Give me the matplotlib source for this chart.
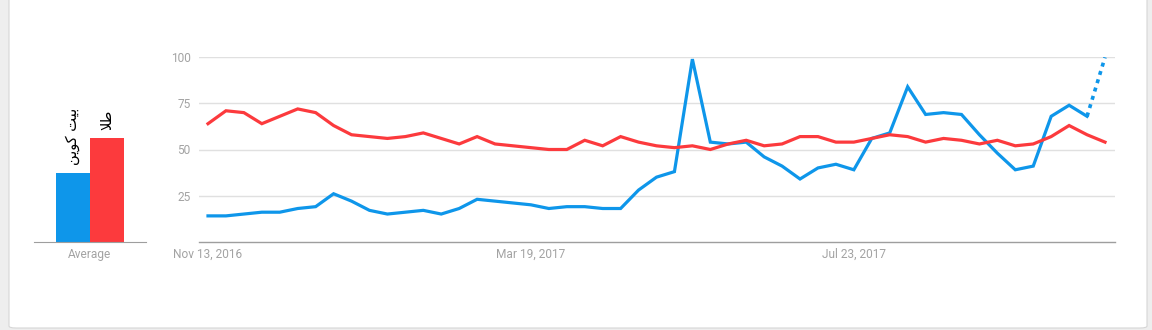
import matplotlib
matplotlib.use("Agg")
import matplotlib.pyplot as plt
import matplotlib.dates as mdates
from matplotlib.patches import FancyBboxPatch
import pandas as pd

# ---- data ----
start_date = "2016-11-13"
blue_values = [14, 14, 15, 16, 16, 18, 19, 26, 22, 17, 15, 16, 17, 15, 18, 23, 22, 21, 20, 18,
               19, 19, 18, 18, 28, 35, 38, 99, 54, 53, 54, 46, 41, 34, 40, 42, 39, 56, 59, 84,
               69, 70, 69, 58, 48, 39, 41, 68, 74, 68, 100]
red_values = [64, 71, 70, 64, 68, 72, 70, 63, 58, 57, 56, 57, 59, 56, 53, 57, 53, 52, 51, 50,
              50, 55, 52, 57, 54, 52, 51, 52, 50, 53, 55, 52, 53, 57, 57, 54, 54, 56, 58, 57,
              54, 56, 55, 53, 55, 52, 53, 57, 63, 58, 54]
series_names = ["بیت کوین", "طلا"]
# pre-shaped visual (left-to-right) forms of the labels
series_labels_visual = ["\uFEE6\uFEF3\uFEEE\uFB90 \uFE96\uFEF4\uFE91", "\uFEFC\uFEC3"]
averages = [37, 56]
y_ticks = [25, 50, 75, 100]
x_tick_dates = ["2016-11-13", "2017-03-19", "2017-07-23"]
x_tick_labels = ["Nov 13, 2016", "Mar 19, 2017", "Jul 23, 2017"]
avg_label = "Average"

BLUE = "#0e96ea"
RED = "#fc3a3d"
GRID = "#e0e0e0"
AXIS = "#9e9e9e"
TXT = "#a3a3a3"

plt.rcParams['font.family'] = ['Roboto', 'DejaVu Sans']

W, H = 1152, 330
fig = plt.figure(figsize=(W / 100, H / 100), dpi=100, facecolor="#eeeeee")

# card
card = FancyBboxPatch((9 / W, 2 / H), (1147 - 9) / W, (H + 20) / H,
                      boxstyle="round,pad=0,rounding_size=0.006",
                      transform=fig.transFigure, facecolor="white",
                      edgecolor="#d6d6d6", linewidth=0.8, zorder=-10)
fig.patches.append(card)

def px_axes(x0, x1, ytop, ybot):
    a = fig.add_axes([x0 / W, (H - ybot) / H, (x1 - x0) / W, (ybot - ytop) / H])
    a.set_zorder(1)
    return a

# ---- main line chart ----
dates = pd.date_range(start_date, periods=len(blue_values), freq="7D")
ax = px_axes(199, 1115, 57.3, 241.7)
ax.set_facecolor("none")
ax.set_ylim(0, 100)
d0 = mdates.date2num(dates[0])
d1 = mdates.date2num(dates[-1])
pxw = (d1 - d0) / (1105 - 208)
ax.set_xlim(d0 - (208 - 199) * pxw, d1 + (1115 - 1105) * pxw)

for v in y_ticks:
    ax.axhline(v, color=GRID, lw=1, zorder=1)

ax.plot(dates[:-1], blue_values[:-1], color=BLUE, lw=2.3, solid_joinstyle="miter", zorder=3)
ax.plot(dates[-2:], blue_values[-2:], color=BLUE, lw=2.6, linestyle=(0, (1.1, 1.3)),
        dash_capstyle="butt", zorder=3)
ax.plot(dates, red_values, color=RED, lw=2.3, solid_joinstyle="miter", zorder=3)

for s in ["top", "right", "left"]:
    ax.spines[s].set_visible(False)
ax.spines["bottom"].set_color(AXIS)
ax.spines["bottom"].set_linewidth(1)
ax.set_yticks(y_ticks)
ax.set_yticklabels([str(v) for v in y_ticks])
ax.set_xticks(pd.to_datetime(x_tick_dates))
ax.set_xticklabels(x_tick_labels)
ax.tick_params(axis="both", length=0, colors=TXT, labelsize=8.6)
ax.tick_params(axis="y", pad=6)
ax.tick_params(axis="x", pad=4.5)

# ---- average bars ----
bx = px_axes(34, 146, 57.3, 241.7)
bx.set_facecolor("none")
bx.set_ylim(0, 100)
bx.set_xlim(-1.147, 2.147)
bx.bar([0, 1], averages, width=1.0, color=[BLUE, RED], zorder=2)
for i, (lab, v) in enumerate(zip(series_labels_visual, averages)):
    bx.annotate(lab, (i, v), xytext=(0, 8), textcoords="offset pixels",
                rotation=90, ha="center", va="bottom", fontsize=10.5,
                family=["DejaVu Sans"], color="black", annotation_clip=False)
for s in ["top", "right", "left"]:
    bx.spines[s].set_visible(False)
bx.spines["bottom"].set_color(AXIS)
bx.set_yticks([])
bx.set_xticks([0.5])
bx.set_xticklabels([avg_label])
bx.tick_params(axis="x", length=0, colors=TXT, labelsize=8.6, pad=4.5)

fig.savefig("out.png", dpi=100, facecolor=fig.get_facecolor())
